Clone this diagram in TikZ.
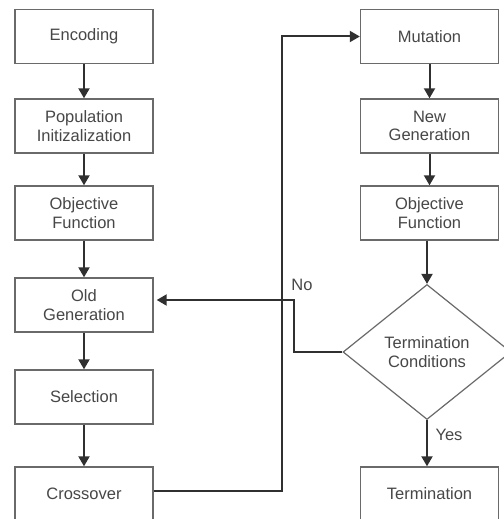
\documentclass[tikz,border=0pt]{standalone}
\usepackage{fontspec}
\setmainfont{Liberation Sans}
\usetikzlibrary{shapes.geometric,arrows.meta}
\definecolor{boxline}{HTML}{6A6A6A}
\definecolor{wire}{HTML}{303030}
\definecolor{label}{HTML}{474747}
\tikzset{
  stepbox/.style={draw=boxline, line width=1.4pt, fill=white,
    minimum width=138pt, minimum height=54pt, inner sep=0pt,
    align=center, text=label, font=\fontsize{16.5}{18.5}\selectfont},
  decision/.style={diamond, draw=boxline, line width=1.2pt, fill=white,
    minimum width=168pt, minimum height=135pt, aspect=1.24, inner sep=0pt,
    align=center, text=label, font=\fontsize{16.5}{18.5}\selectfont},
  arr/.style={draw=wire, line width=2pt, -{Triangle[width=11pt,length=10pt]}},
  tag/.style={text=label, font=\fontsize{16.5}{18.5}\selectfont, inner sep=0pt}
}
\begin{document}
\begin{tikzpicture}[x=1pt,y=-1pt]
\useasboundingbox (0,0) rectangle (503,519);

% left column
\node[stepbox] (enc)  at (84,36.5) {Encoding};
\node[stepbox] (pop)  at (84,126)  {Population\\Initizalization};
\node[stepbox] (obj)  at (84,213)  {Objective\\Function};
\node[stepbox] (old)  at (84,305)  {Old\\Generation};
\node[stepbox] (sel)  at (84,397)  {Selection};
\node[stepbox] (cro)  at (84,494)  {Crossover};

% right column
\node[stepbox] (mut)  at (429.5,36.5) {Mutation};
\node[stepbox] (new)  at (429.5,126)  {New\\Generation};
\node[stepbox] (obj2) at (429.5,213)  {Objective\\Function};
\node[decision] (term) at (427,352)   {Termination\\Conditions};
\node[stepbox] (end)  at (429.5,494)  {Termination};

% vertical flow
\draw[arr] (enc) -- (pop);
\draw[arr] (pop) -- (obj);
\draw[arr] (obj) -- (old);
\draw[arr] (old) -- (sel);
\draw[arr] (sel) -- (cro);
\draw[arr] (mut) -- (new);
\draw[arr] (new) -- (obj2);
\draw[arr] (obj2.south -| term.north) -- (term.north);
\draw[arr] (term.south) -- (term.south |- end.north);

% crossover feeds mutation
\coordinate (up) at (282,491);
\draw[arr] ([yshift=3pt]cro.east) -- (up) |- (mut.west);

% loop back when not terminated
\coordinate (nobend) at (294,300);
\draw[arr, shorten >=3pt] (term.west) -| (nobend) -- (old.east |- nobend);

% branch labels
\node[tag] (no)  at (302,285) {No};
\node[tag] (yes) at (449,435) {Yes};
\end{tikzpicture}
\end{document}
